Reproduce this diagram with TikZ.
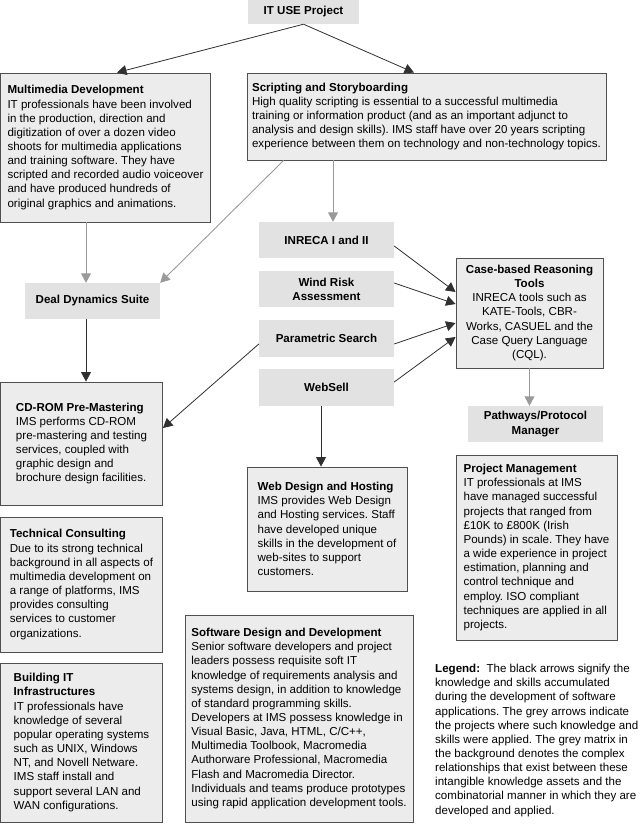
\documentclass[tikz,border=0pt]{standalone}
\usepackage{fontspec}
\setmainfont{Liberation Sans}
\usetikzlibrary{arrows.meta}
\frenchspacing

\definecolor{tagfill}{HTML}{E2E2E2}
\definecolor{cardfill}{HTML}{ECECEC}
\definecolor{cardedge}{HTML}{505050}
\definecolor{greyline}{HTML}{9A9A9A}
\definecolor{darkline}{HTML}{303030}

\begin{document}
\begin{tikzpicture}[x=1bp,y=-1bp,
  font=\fontsize{11.6}{14.2}\selectfont,
  tag/.style={fill=tagfill, font=\fontsize{11.6}{14.2}\selectfont\bfseries, align=center, inner sep=2bp},
  card/.style={draw=cardedge, line width=0.9bp, fill=cardfill, align=left, inner sep=3bp},
  blk/.style={draw=darkline, line width=0.8bp, -{Triangle[length=9.5bp,width=10bp]}},
  gry/.style={draw=greyline, line width=0.9bp, -{Triangle[length=9.5bp,width=10bp]}}]

\useasboundingbox (0,0) rectangle (643,828);

% ======== серые блоки без рамки ========
\node[tag, minimum width=111bp, minimum height=24bp] (itu) at (303.5,12) {IT USE Project};
\node[tag, minimum width=135bp, minimum height=36bp] (dds) at (92.5,301) {Deal Dynamics Suite};
\node[tag, minimum width=135bp, minimum height=36bp] (inr) at (326.5,240) {INRECA I and II};
\node[tag, minimum width=135bp, minimum height=36bp] (wra) at (326.5,289) {Wind Risk\\Assessment};
\node[tag, minimum width=135bp, minimum height=37bp] (pas) at (326.5,338.5) {Parametric Search};
\node[tag, minimum width=135bp, minimum height=37bp] (wbs) at (326.5,387.5) {WebSell};
\node[tag, minimum width=135bp, minimum height=36bp] (ppm) at (535.5,424) {Pathways/Protocol\\Manager};

% ======== блоки с рамкой ========
\node[card, minimum width=210bp, minimum height=149bp] (mmd) at (105.5,147.5) {\textbf{Multimedia Development}\\
IT professionals have been involved\\
in the production, direction and\\
digitization of over a dozen video\\
shoots for multimedia applications\\
and training software. They have\\
scripted and recorded audio voiceover\\
and have produced hundreds of\\
original graphics and animations.};

\node[card, minimum width=359bp, minimum height=87bp] (sas) at (426.5,116.5) {\textbf{Scripting and Storyboarding}\\
High quality scripting is essential to a successful multimedia\\
training or information product (and as an important adjunct to\\
analysis and design skills). IMS staff have over 20 years scripting\\
experience between them on technology and non-technology topics.};

\node[card, align=center, minimum width=147bp, minimum height=110bp] (cbr) at (529.5,313) {\textbf{Case-based Reasoning}\\
\textbf{Tools}\\
INRECA tools such as\\
KATE-Tools, CBR-\\
Works, CASUEL and the\\
Case Query Language\\
(CQL).};

\node[card, minimum width=162bp, minimum height=123bp] (cdr) at (81.5,443.5) {\textbf{CD-ROM Pre-Mastering}\\
IMS performs CD-ROM\\
pre-mastering and testing\\
services, coupled with\\
graphic design and\\
brochure design facilities.};

\node[card, minimum width=160bp, minimum height=124bp] (wdh) at (327,529) {\textbf{Web Design and Hosting}\\
IMS provides Web Design\\
and Hosting services. Staff\\
have developed unique\\
skills in the development of\\
web-sites to support\\
customers.};

\node[card, minimum width=161bp, minimum height=185bp] (pmg) at (536.5,547.5) {\textbf{Project Management}\\
IT professionals at IMS\\
have managed successful\\
projects that ranged from\\
£10K to £800K (Irish\\
Pounds) in scale. They have\\
a wide experience in project\\
estimation, planning and\\
control technique and\\
employ. ISO compliant\\
techniques are applied in all\\
projects.};

\node[card, minimum width=162bp, minimum height=135bp] (tcn) at (81.5,584.5) {\textbf{Technical Consulting}\\
Due to its strong technical\\
background in all aspects of\\
multimedia development on\\
a range of platforms, IMS\\
provides consulting\\
services to customer\\
organizations.};

\node[card, minimum width=162bp, minimum height=159bp] (bit) at (81.5,742.5) {\textbf{Building IT}\\
\textbf{Infrastructures}\\
IT professionals have\\
knowledge of several\\
popular operating systems\\
such as UNIX, Windows\\
NT, and Novell Netware.\\
IMS staff install and\\
support several LAN and\\
WAN configurations.};

\node[card, minimum width=228bp, minimum height=207bp] (sdd) at (299,718.5) {\textbf{Software Design and Development}\\
Senior software developers and project\\
leaders possess requisite soft IT\\
knowledge of requirements analysis and\\
systems design, in addition to knowledge\\
of standard programming skills.\\
Developers at IMS possess knowledge in\\
Visual Basic, Java, HTML, C/C++,\\
Multimedia Toolbook, Macromedia\\
Authorware Professional, Macromedia\\
Flash and Macromedia Director.\\
Individuals and teams produce prototypes\\
using rapid application development tools.};

% легенда
\node[anchor=north west, align=left, inner sep=0pt] (lgd) at (435,664) {\textbf{Legend:}\ \ The black arrows signify the\\
knowledge and skills accumulated\\
during the development of software\\
applications. The grey arrows indicate\\
the projects where such knowledge and\\
skills were applied. The grey matrix in\\
the background denotes the complex\\
relationships that exist between these\\
intangible knowledge assets and the\\
combinatorial manner in which they are\\
developed and applied.};

% ======== стрелки ========
\draw[blk] (itu.south) -- ([xshift=11.5bp]mmd.north);
\draw[blk] (itu.south) -- ([xshift=-12.5bp]sas.north);

\draw[gry] ([xshift=-6.5bp]mmd.south -| dds.north) -- ([xshift=-6.5bp]dds.north);
\draw[gry] ([xshift=37bp]sas.south west) -- (dds.north east);
\draw[gry] ([xshift=6.5bp]sas.south -| inr.north) -- ([xshift=6.5bp]inr.north);

\draw[blk] ([xshift=-6.5bp]dds.south) -- ([xshift=-6.5bp]dds.south |- cdr.north);
\draw[blk] ([yshift=-5.5bp]pas.west) -- ([yshift=15.5bp]cdr.east);

\foreach \a/\s/\e in {inr/-6/21, wra/6/9, pas/-5.5/-10, wbs/5.5/-24} {
  \draw[blk] ([yshift=\s bp]\a.east) -- ([yshift=\e bp]cbr.west);
}

\draw[blk] ([xshift=-5.5bp]wbs.south) -- ([xshift=-5.5bp]wbs.south |- wdh.north);
\draw[gry] (cbr.south) -- (cbr.south |- ppm.north);

\end{tikzpicture}
\end{document}
